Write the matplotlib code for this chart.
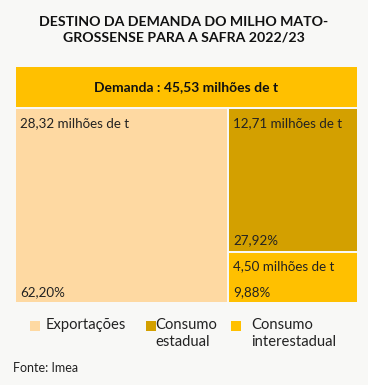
import matplotlib.pyplot as plt
from matplotlib.patches import Rectangle

plt.rcParams['font.family'] = ['Lato', 'DejaVu Sans']

# dados
categorias = ["Exportações", "Consumo\nestadual", "Consumo\ninterestadual"]
valores = [28.32, 12.71, 4.50]      # milhões de t
percentuais = [62.20, 27.92, 9.88]
total = 45.53
cores = ["#FED9A2", "#D3A000", "#FFC000"]
fundo = "#F8F8F6"

fig = plt.figure(figsize=(3.68, 3.85), dpi=100, facecolor=fundo)
ax = fig.add_axes([0, 0, 1, 1])
ax.set_xlim(0, 368)
ax.set_ylim(385, 0)
ax.axis("off")

def fmt(v, d=2):
    return f"{v:.{d}f}".replace(".", ",")

ax.text(184, 30, "DESTINO DA DEMANDA DO MILHO MATO-\nGROSSENSE PARA A SAFRA 2022/23",
        ha="center", va="center", fontsize=10.2, fontweight="bold",
        color="#111111", linespacing=1.4)

# barra do total
x0, x1 = 16, 357
ax.add_patch(Rectangle((x0, 67), x1 - x0, 40, facecolor="#FFC000", edgecolor="none"))
ax.text((x0 + x1) / 2, 87, f"Demanda : {fmt(total)} milhões de t",
        ha="center", va="center", fontsize=10, fontweight="bold", color="#111111")

# treemap
y0, y1 = 109, 302
gap = 2
W = x1 - x0
H = y1 - y0
wl = W * percentuais[0] / 100
resto = percentuais[1] + percentuais[2]
ht = H * percentuais[1] / resto

rects = [
    (x0, y0, wl - gap / 2, H),
    (x0 + wl + gap / 2, y0, W - wl - gap / 2, ht - gap / 2),
    (x0 + wl + gap / 2, y0 + ht + gap / 2, W - wl - gap / 2, H - ht - gap / 2),
]
for (rx, ry, rw, rh), c, v, p in zip(rects, cores, valores, percentuais):
    ax.add_patch(Rectangle((rx, ry), rw, rh, facecolor=c, edgecolor="none"))
    ax.text(rx + 4, ry + 14, f"{fmt(v)} milhões de t", ha="left", va="center",
            fontsize=9.6, color="#222222")
    ax.text(rx + 4, ry + rh - 10, f"{fmt(p)}%", ha="left", va="center",
            fontsize=9.6, color="#222222")

# legenda
leg_x = [30, 146, 231]
txt_x = [46, 155, 251]
for lx, tx, c, nome in zip(leg_x, txt_x, cores, categorias):
    ax.add_patch(Rectangle((lx, 321), 10, 10, facecolor=c, edgecolor="none"))
    ax.text(tx, 318, nome, ha="left", va="top",
            fontsize=10.6, color="#222222", linespacing=1.3)

ax.text(13, 368, "Fonte: Imea", ha="left", va="center", fontsize=9, color="#222222")

fig.savefig("out.png", dpi=100, facecolor=fundo)
